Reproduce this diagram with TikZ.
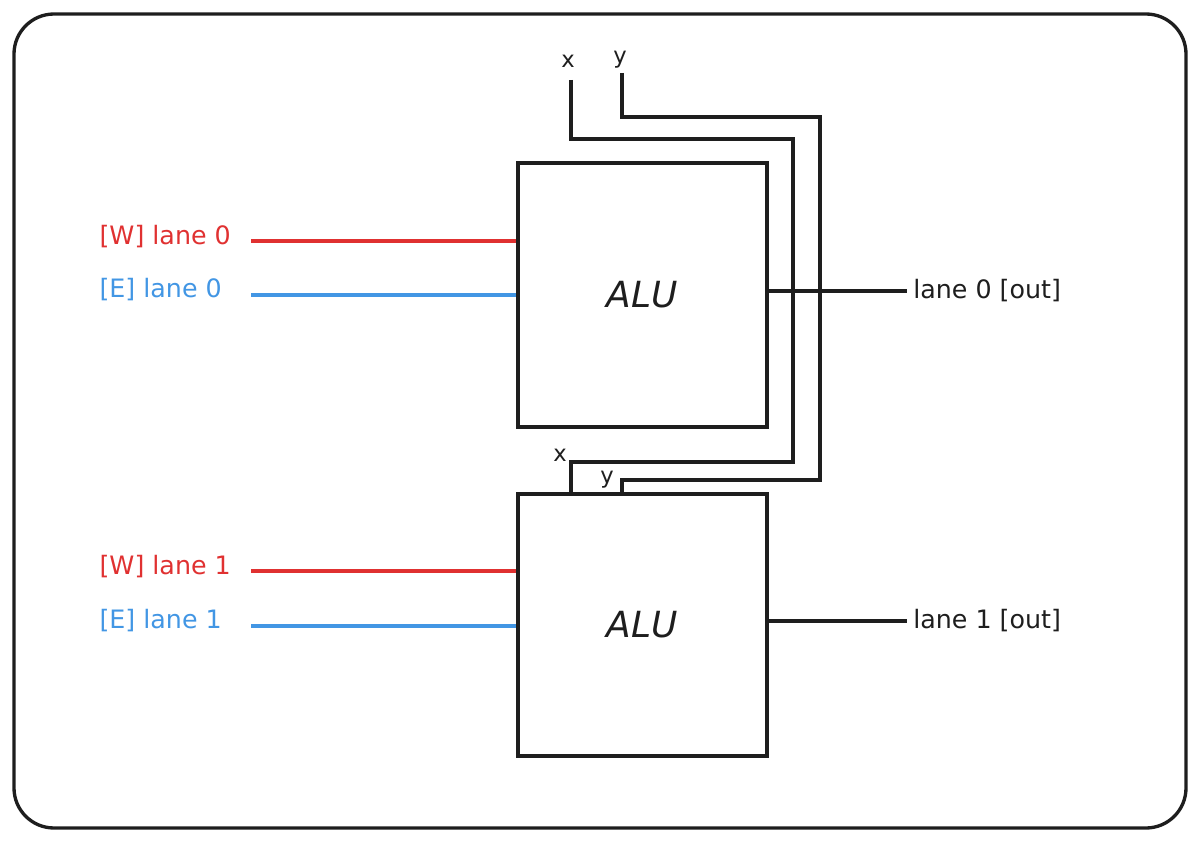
\documentclass[tikz,border=0pt]{standalone}
\usepackage{fontspec}
\setmainfont{DejaVu Sans}
\definecolor{wred}{RGB}{224,49,49}
\definecolor{eblue}{RGB}{66,150,228}
\definecolor{ink}{RGB}{30,30,30}
\begin{document}
\begin{tikzpicture}[x=0.75pt,y=-0.75pt,
  wire/.style={draw=ink,line width=2.5pt,line join=miter},
  alubox/.style={draw=ink,line width=2.5pt,minimum width=186.75pt,inner sep=0pt,font=\fontsize{27}{30}\selectfont\itshape,text=ink},
  lbl/.style={font=\fontsize{19}{22}\selectfont,inner sep=1pt},
  sig/.style={font=\fontsize{17}{19}\selectfont,inner sep=0pt,text=ink}]
\useasboundingbox (0,0) rectangle (1200,842);
\draw[ink,line width=2.5pt,rounded corners=30pt] (14,14) rectangle (1186,828);

% ALU boxes
\node[alubox,minimum height=198pt] (alu0) at (642.5,295) {ALU};
\node[alubox,minimum height=196.5pt] (alu1) at (642.5,625) {ALU};

% input labels
\node[lbl,text=wred,anchor=west] (w0) at (98,237) {[W] lane 0};
\node[lbl,text=eblue,anchor=west] (e0) at (98,290) {[E] lane 0};
\node[lbl,text=wred,anchor=west] (w1) at (98,567) {[W] lane 1};
\node[lbl,text=eblue,anchor=west] (e1) at (98,621) {[E] lane 1};

\coordinate (w0s) at (251,241);
\coordinate (e0s) at (251,295);
\coordinate (w1s) at (251,571);
\coordinate (e1s) at (251,626);
\draw[wred,line width=2.5pt] (w0s) -- (w0s -| alu0.west);
\draw[eblue,line width=2.5pt] (e0s) -- (e0s -| alu0.west);
\draw[wred,line width=2.5pt] (w1s) -- (w1s -| alu1.west);
\draw[eblue,line width=2.5pt] (e1s) -- (e1s -| alu1.west);

% outputs
\node[lbl,text=ink,anchor=west,inner xsep=4.5pt] (o0) at (907,291) {lane 0 [out]};
\node[lbl,text=ink,anchor=west,inner xsep=4.5pt] (o1) at (907,621) {lane 1 [out]};
\draw[wire] (alu0.east |- o0.west) -- (o0.west);
\draw[wire] (alu1.east |- o1.west) -- (o1.west);

% x / y signals
\node[sig] (xt) at (568,61) {x};
\node[sig] (yt) at (620,60) {y};
\node[sig] (xb) at (560,455) {x};
\node[sig] (yb) at (607,480) {y};
\coordinate (xs) at (571,80);
\coordinate (ys) at (622,73);
\draw[wire] (xs) |- (793,139) |- (571,462) -- (alu1.north -| xs);
\draw[wire] (ys) |- (820,117) |- (622,480) -- (alu1.north -| ys);
\end{tikzpicture}
\end{document}
